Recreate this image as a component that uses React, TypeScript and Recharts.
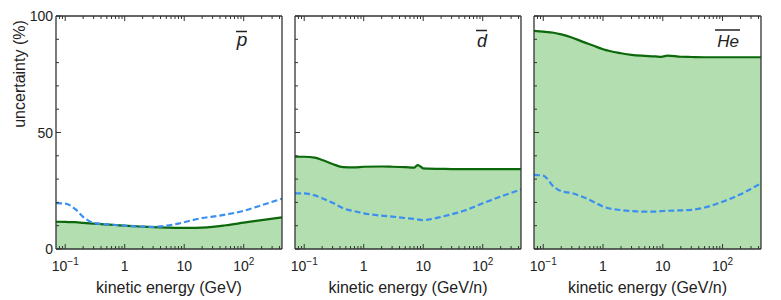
import React from 'react'
import { ComposedChart, Area, Line, XAxis, YAxis } from 'recharts'

// kinetic energy grid (GeV or GeV/n)
const energy = [0.07, 0.1, 0.15, 0.2, 0.3, 0.45, 0.7, 1, 2, 3, 5, 7, 8, 9, 10, 12, 20, 30, 50, 100, 200, 440]

// antiproton
const pbarTotal = [11.7, 11.6, 11.5, 11.2, 10.9, 10.6, 10.3, 10.0, 9.6, 9.4, 9.2, 9.1, 9.1, 9.1, 9.1, 9.1, 9.2, 9.5, 10.2, 11.3, 12.4, 13.6]
const pbarDashed = [19.7, 19.5, 17.0, 13.8, 11.2, 10.7, 10.3, 10.0, 9.6, 9.5, 10.0, 10.6, 10.9, 11.2, 11.5, 12.0, 13.3, 13.9, 14.8, 16.4, 18.8, 21.6]

// antideuteron
const dbarTotal = [39.6, 39.6, 39.2, 38.2, 36.5, 35.1, 35.0, 35.3, 35.4, 35.3, 35.1, 34.9, 36.0, 35.4, 34.6, 34.5, 34.4, 34.3, 34.3, 34.3, 34.3, 34.3]
const dbarDashed = [23.9, 23.9, 23.0, 21.8, 19.8, 17.5, 16.2, 15.3, 14.3, 13.9, 13.3, 12.9, 12.7, 12.5, 12.4, 12.6, 13.8, 14.9, 16.5, 19.6, 22.5, 25.6]

// antihelium
const hebarTotal = [93.6, 93.3, 92.8, 92.1, 90.8, 89.0, 87.2, 85.7, 84.0, 83.3, 82.9, 82.7, 82.6, 82.5, 82.6, 83.0, 82.5, 82.4, 82.3, 82.3, 82.3, 82.3]
const hebarDashed = [31.8, 31.5, 26.7, 24.8, 24.0, 22.4, 20.2, 18.2, 16.7, 16.3, 16.0, 16.0, 16.1, 16.2, 16.3, 16.4, 16.6, 16.8, 17.8, 20.3, 23.5, 28.2]

const xTicks = [
  0.08, 0.09, 0.1, 0.2, 0.3, 0.4, 0.5, 0.6, 0.7, 0.8, 0.9,
  1, 2, 3, 4, 5, 6, 7, 8, 9,
  10, 20, 30, 40, 50, 60, 70, 80, 90,
  100, 200, 300, 400,
]
const yTicks = [0, 10, 20, 30, 40, 50, 60, 70, 80, 90, 100]
const yLabelled = [0, 50, 100]

const FRAME = '#333'
const TEXT = '#222'
const FONT = '"Liberation Sans", Arial, sans-serif'
const FILL = '#b3dfb0'
const GREEN = '#0b680b'
const BLUE = '#3b8ff0'

const isDecade = (v: number) => Math.abs(Math.log10(v) - Math.round(Math.log10(v))) < 1e-6

function build(total: number[], dashed: number[]) {
  return energy.map((e, i) => ({ e, g: total[i], b: dashed[i] }))
}

function decadeLabel(v: number) {
  if (v === 1) return <>1</>
  if (v === 10) return <>10</>
  const exp = Math.round(Math.log10(v))
  return (
    <>
      10<tspan dy={-6} fontSize={10}>{exp < 0 ? '\u2212' + -exp : exp}</tspan>
    </>
  )
}

const BottomTick = (p: any) => {
  const v = p.payload.value
  const major = isDecade(v)
  return (
    <g>
      <line x1={p.x} x2={p.x} y1={p.y} y2={p.y - (major ? 5 : 3)} stroke={FRAME} strokeWidth={1} />
      {major && (
        <text x={p.x} y={p.y + 22} textAnchor="middle" fontSize={14} fill={TEXT} fontFamily={FONT}>
          {decadeLabel(v)}
        </text>
      )}
    </g>
  )
}

const TopTick = (p: any) => {
  const major = isDecade(p.payload.value)
  return <line x1={p.x} x2={p.x} y1={p.y} y2={p.y + (major ? 5 : 3)} stroke={FRAME} strokeWidth={1} />
}

const makeLeftTick = (labels: boolean) => (p: any) => {
  const v = p.payload.value
  const major = v % 50 === 0
  return (
    <g>
      <line x1={p.x} x2={p.x + (major ? 5 : 3)} y1={p.y} y2={p.y} stroke={FRAME} strokeWidth={1} />
      {labels && yLabelled.includes(v) && (
        <text x={p.x - 3} y={p.y + 5} textAnchor="end" fontSize={14} fill={TEXT} fontFamily={FONT}>
          {v}
        </text>
      )}
    </g>
  )
}

const RightTick = (p: any) => {
  const major = p.payload.value % 50 === 0
  return <line x1={p.x} x2={p.x - (major ? 5 : 3)} y1={p.y} y2={p.y} stroke={FRAME} strokeWidth={1} />
}

type PanelProps = {
  data: { e: number; g: number; b: number }[]
  xLabel: string
  yLabels: boolean
  left: number
  width: number
  marginLeft: number
}

// axes of size 1 (recharts skips axes of size 0); they frame the plot box
function Panel({ data, xLabel, yLabels, left, width, marginLeft }: PanelProps) {
  return (
    <div style={{ position: 'absolute', left, top: 0 }}>
      <ComposedChart width={width} height={300} data={data} margin={{ top: 15, right: 7, bottom: 0, left: marginLeft }}>
        <Area
          dataKey="g"
          type="monotone"
          baseValue={0}
          fill={FILL}
          fillOpacity={1}
          stroke={GREEN}
          strokeWidth={2.2}
          isAnimationActive={false}
        />
        <Line
          dataKey="b"
          type="monotone"
          stroke={BLUE}
          strokeWidth={2.2}
          strokeDasharray="6 3"
          dot={false}
          isAnimationActive={false}
        />
        <XAxis
          dataKey="e"
          type="number"
          scale="log"
          domain={[0.07, 440]}
          allowDataOverflow
          ticks={xTicks}
          interval={0}
          height={51}
          tickSize={0}
          tickMargin={0}
          tickLine={false}
          axisLine={{ stroke: FRAME, strokeWidth: 1.3 }}
          tick={BottomTick}
          label={{ value: xLabel, position: 'insideBottom', offset: 7, fill: TEXT, fontSize: 16, fontFamily: FONT }}
        />
        <XAxis
          xAxisId="top"
          orientation="top"
          dataKey="e"
          type="number"
          scale="log"
          domain={[0.07, 440]}
          allowDataOverflow
          ticks={xTicks}
          interval={0}
          height={1}
          tickSize={0}
          tickMargin={0}
          tickLine={false}
          axisLine={{ stroke: FRAME, strokeWidth: 1.3 }}
          tick={TopTick}
        />
        <YAxis
          type="number"
          domain={[0, 100]}
          ticks={yTicks}
          interval={0}
          width={1}
          tickSize={0}
          tickMargin={0}
          tickLine={false}
          axisLine={{ stroke: FRAME, strokeWidth: 1.3 }}
          tick={makeLeftTick(yLabels)}
        />
        <YAxis
          yAxisId="right"
          orientation="right"
          type="number"
          domain={[0, 100]}
          ticks={yTicks}
          interval={0}
          width={1}
          tickSize={0}
          tickMargin={0}
          tickLine={false}
          axisLine={{ stroke: FRAME, strokeWidth: 1.3 }}
          tick={RightTick}
        />
      </ComposedChart>
    </div>
  )
}

export default function App() {
  return (
    <div style={{ position: 'absolute', left: 0, top: 0, width: 781, height: 300, background: '#fff', fontFamily: FONT }}>
      <Panel data={build(pbarTotal, pbarDashed)} xLabel="kinetic energy (GeV)" yLabels left={0} width={290} marginLeft={55} />
      <Panel data={build(dbarTotal, dbarDashed)} xLabel="kinetic energy (GeV/n)" yLabels={false} left={287} width={242} marginLeft={7} />
      <Panel data={build(hebarTotal, hebarDashed)} xLabel="kinetic energy (GeV/n)" yLabels={false} left={526} width={243} marginLeft={7} />
      <svg width={781} height={300} style={{ position: 'absolute', left: 0, top: 0, pointerEvents: 'none' }}>
        <text transform="translate(25,74) rotate(-90)" textAnchor="middle" fontSize={16} fill={TEXT} fontFamily={FONT}>
          uncertainty (%)
        </text>
        <text x={242} y={45.5} textAnchor="middle" fontSize={19} fontStyle="italic" fill={TEXT} fontFamily={FONT}>p</text>
        <line x1={236} x2={247} y1={31.5} y2={31.5} stroke={TEXT} strokeWidth={1.5} />
        <text x={482} y={46.5} textAnchor="middle" fontSize={18} fontStyle="italic" fill={TEXT} fontFamily={FONT}>d</text>
        <line x1={476} x2={487} y1={30.5} y2={30.5} stroke={TEXT} strokeWidth={1.5} />
        <text x={728} y={46.5} textAnchor="middle" fontSize={17} fontStyle="italic" fill={TEXT} fontFamily={FONT}>He</text>
        <line x1={715} x2={740} y1={30} y2={30} stroke={TEXT} strokeWidth={1.5} />
      </svg>
    </div>
  )
}
